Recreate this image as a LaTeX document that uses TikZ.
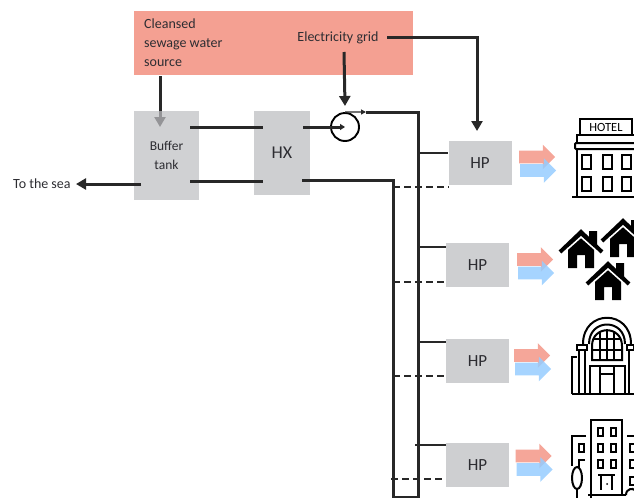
\documentclass[tikz,border=0pt]{standalone}
\usepackage{fontspec}
\setmainfont{Carlito}
\usetikzlibrary{arrows.meta, shapes.arrows}
\definecolor{source-red}{RGB}{244,160,146}
\definecolor{box-grey}{RGB}{206,207,209}
\definecolor{buffer-grey}{RGB}{190,191,194}
\definecolor{heat-red}{RGB}{243,150,135}
\definecolor{cold-blue}{RGB}{150,205,255}
\definecolor{line-dark}{RGB}{40,40,40}
\definecolor{text-dark}{RGB}{45,45,50}
\tikzset{
  houseicon/.pic={
    \fill[black] (8,-11) -- (16,-11) -- (16,7) -- (8,0) -- cycle;
    \fill[black] (-13,3) -- (0,-9) -- (13,3) -- (13,26) -- (4,26) -- (4,13) -- (-4,13) -- (-4,26) -- (-13,26) -- cycle;
    \draw[white, line width=1.6pt] (-19,12) -- (0,-5) -- (19,12);
    \draw[black, line width=4pt] (-21,10) -- (0,-10) -- (21,10);
  },
}

\begin{document}
\begin{tikzpicture}[
  x=1pt, y=-1pt,
  box/.style={fill=box-grey, minimum width=#1, align=center, inner sep=0pt, text=text-dark},
  lbl/.style={font=\fontsize{14}{19}\selectfont, text=text-dark, inner sep=0pt},
  pipe/.style={line-dark, line width=3pt},
  tap/.style={line-dark, line width=2.7pt},
  tapdash/.style={line-dark, line width=2.7pt, dash pattern=on 7pt off 4pt},
  arr/.style={-{Triangle[length=10pt, width=11pt]}, line-dark, line width=3pt},
  heatarr/.style={single arrow, draw=none, fill=#1, fill opacity=0.85, minimum height=36pt, text width=1pt, text height=12.5pt, text depth=0pt, inner sep=0pt, single arrow head extend=6pt, single arrow tip angle=90},
  icon/.style={black, line width=2pt},
]
  \useasboundingbox (0,0) rectangle (634,498);

  % source and electricity
  \node[fill=source-red, minimum width=279pt, minimum height=64pt, inner sep=0pt] (source) at (273.5,43) {};
  \node[lbl, align=left, anchor=west] (cleansed) at (144,43) {Cleansed\\sewage water\\source};
  \node[lbl, inner sep=4pt] (grid) at (338,38) {Electricity grid};
  \coordinate (gridout) at (344,52);
  \coordinate (gridline) at (387,37);
  \coordinate (srcout) at (160,76);
  \coordinate (srcin) at (160,127);
  \draw[arr] (srcout) -- (srcin);

  % main boxes
  \node[box=65pt, fill=buffer-grey, minimum height=89pt, fill opacity=0.72, text opacity=1, font=\fontsize{13.5}{19}\selectfont] (buffer) at (166.5,155.5) {Buffer\\tank};
  \node[box=56pt, minimum height=84pt, font=\fontsize{18}{20}\selectfont] (hx) at (282,153) {HX};
  \node[draw=black, circle, line width=1.9pt, minimum size=28pt, inner sep=0pt] (pump) at (345,127) {};

  % sea outlet
  \node[lbl, anchor=west] (sea) at (13,184) {To the sea};
  \coordinate (seaout) at (141,184);
  \draw[arr] (seaout) -- (sea.east -| 76,0);

  % buffer to HX to pump
  \coordinate (bthot) at (190,127);
  \coordinate (hxhotin) at (263,127);
  \coordinate (btcold) at (190,181);
  \coordinate (hxcoldin) at (263,181);
  \coordinate (hxhot) at (303,127);
  \coordinate (hxcold) at (302,180);
  \coordinate (supplytop) at (366,112);
  \coordinate (supplyend) at (418,498);
  \coordinate (returnend) at (393,498);
  \coordinate (linkleft) at (393,497);
  \coordinate (linkright) at (418,497);
  \draw[pipe] (bthot) -- (hxhotin);
  \draw[pipe] (btcold) -- (hxcoldin);
  \draw[-{Triangle[length=5pt, width=6pt]}, line-dark, line width=3pt] (hxhot) -- (pump.center);
  \draw[-{Triangle[length=5pt, width=5pt]}, line-dark, line width=1.4pt] (pump.north) -- (supplytop);
  \draw[pipe] (supplytop) -| (supplyend);
  \draw[pipe] (hxcold) -| (returnend);
  \draw[tap] (linkleft) -- (linkright);
  \draw[arr] (gridout) -- (pump.north |- 0,106);

  % heat pumps
  \foreach \n/\cx/\cy/\sx/\sy/\rx/\ry/\ax/\ay in {1/480/163/418/153/393/187/534/157, 2/477.5/265/418/247/393/282/532/259.5, 3/477.5/361/418/342/393/376/529/355.5, 4/477.5/465/415/445/391/479/530.5/456}{
    \node[box=63pt, minimum height=44pt, font=\fontsize{17}{18}\selectfont] (hp\n) at (\cx,\cy) {HP};
    \coordinate (sup\n) at (\sx,\sy);
    \coordinate (ret\n) at (\rx,\ry);
    \draw[tap] (sup\n) -- (sup\n -| hp\n.west);
    \draw[tapdash] (ret\n) -- (ret\n -| hp\n.west);
    \node[heatarr=heat-red] (red\n) at (\ax,\ay) {};
    \node[heatarr=cold-blue] (blue\n) at (\ax+1,\ay+13.5) {};
  }
  \coordinate (hpin) at (477,131);
  \draw[arr] (gridline) -| (hpin);

  % hotel
  \draw[icon] (580,134) |- (632,119) -- (632,134);
  \node[font=\fontsize{12.5}{12}\selectfont, inner sep=0pt] (hotel) at (606,127) {HOTEL};
  \draw[icon] (577,142) -- (577,135) -- (634,135);
  \draw[icon, rounded corners=1pt] (634,143) -- (575,143) -- (575,149) -- (634,149);
  \draw[icon] (577,149) -- (577,197);
  \draw[icon] (572,197) -- (634,197);
  \foreach \y in {155,177}{
    \foreach \x in {582,603,622}{
      \draw[icon] (\x,\y) rectangle (\x+9,\y+14);
    }
  }

  % houses
  \pic at (581,242) {houseicon};
  \pic at (623,231) {houseicon};
  \pic at (608,274) {houseicon};

  % station
  \begin{scope}[icon]
    \draw (583,344) .. controls (583,309) and (631,309) .. (631,344);
    \draw (589,344) .. controls (589,318) and (625,318) .. (625,344);
    \draw (592,360) -- (592,346) .. controls (592,325) and (622,325) .. (622,346) -- (622,360) -- cycle;
    \draw[line width=1.5pt] (592,350) -- (622,350) (594,339) -- (620,339);
    \draw[line width=1.5pt] (600,331) -- (600,360) (607,329) -- (607,360) (614,331) -- (614,360);
    \draw (577,345) rectangle (587,350);
    \draw (627,345) rectangle (634,350);
    \draw (572,394) -- (572,357) -- (577,357);
    \draw (579,350) -- (579,394) (585,350) -- (585,394);
    \draw (629,350) -- (629,394);
    \draw (590,394) -- (590,366) -- (625,366) -- (625,394);
    \draw (600,394) -- (600,366) (600,374) -- (614,374) (614,394) -- (614,366);
    \draw (572,394) -- (634,394);
  \end{scope}

  % apartments
  \begin{scope}[icon]
    \draw (591,498) -- (591,420) -- (622,420) -- (622,494);
    \foreach \y in {428,444,460}{
      \foreach \x in {598,611}{
        \draw[line width=1.7pt] (\x,\y) rectangle (\x+5,\y+8);
      }
    }
    \draw (586,436) -- (572,436) -- (572,466);
    \draw[line width=1.7pt] (579,444) rectangle (584,452);
    \draw (579,468) -- (579,460) -- (585,460);
    \draw (627,436) -- (634,436);
    \foreach \y in {444,460,477}{
      \draw[line width=1.7pt] (634,\y) -- (630,\y) -- (630,\y+8) -- (634,\y+8);
    }
    \draw[line width=1.7pt] (598,475) -- (615,475) (601,475) -- (601,490) (612,475) -- (612,490);
    \fill (607,484) circle (1pt);
    \draw (577,478) ellipse (5pt and 11pt);
    \draw (577,489) -- (577,498);
    \draw (588,495) -- (626,495);
    \draw (626,495) .. controls (626,488) and (634,488) .. (634,490);
  \end{scope}
\end{tikzpicture}
\end{document}
